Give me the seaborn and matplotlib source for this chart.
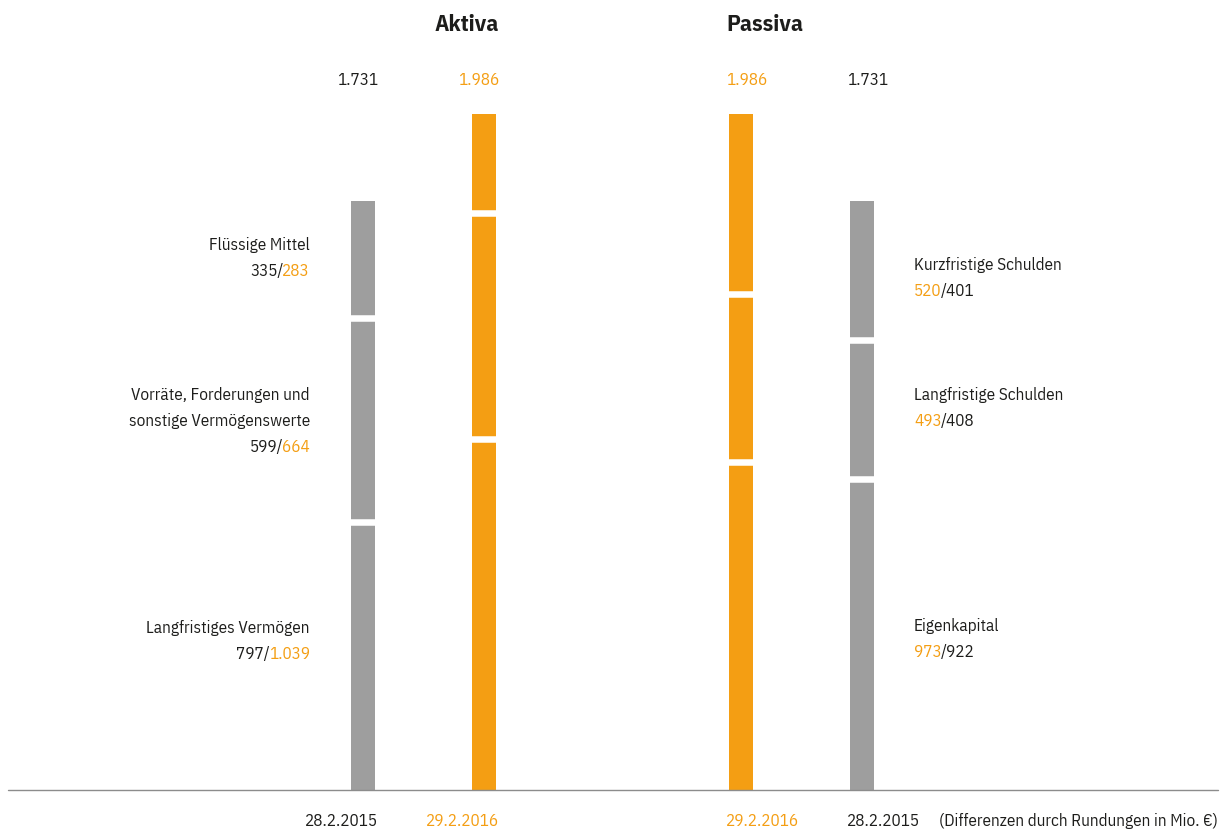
import numpy as np
import pandas as pd
import seaborn as sns
import matplotlib.pyplot as plt
import matplotlib.transforms as mtransforms

# values in Mio. EUR, bottom to top
aktiva_labels = [["Langfristiges Vermögen"],
                 ["Vorräte, Forderungen und", "sonstige Vermögenswerte"],
                 ["Flüssige Mittel"]]
passiva_labels = [["Eigenkapital"], ["Langfristige Schulden"], ["Kurzfristige Schulden"]]

aktiva_2015 = [797, 599, 335]
aktiva_2016 = [1039, 664, 283]
passiva_2016 = [973, 493, 520]
passiva_2015 = [922, 408, 401]

aktiva_2015_txt = ["797", "599", "335"]
aktiva_2016_txt = ["1.039", "664", "283"]
passiva_2016_txt = ["973", "493", "520"]
passiva_2015_txt = ["922", "408", "401"]

totals_txt = ["1.731", "1.986", "1.986", "1.731"]
dates = ["28.2.2015", "29.2.2016", "29.2.2016", "28.2.2015"]
footnote = "(Differenzen durch Rundungen in Mio. €)"

GRAY = "#9e9e9e"
ORANGE = "#f49e13"
DARK = "#1d1d1b"

sns.set_style("white")
plt.rcParams['font.family'] = ['IBM Plex Sans Condensed', 'DejaVu Sans']

fig = plt.figure(figsize=(12.27, 8.34), dpi=100)
ax = fig.add_axes([0, 0, 1, 1])

# layout: one x unit = 121 px, bar 0 centred at px 363, baseline at px 790
UX = 121.0
UY = 676.0 / 1986.0
def px_x(p):
    return (p - 363) / UX
def px_y(p):
    return (790 - p) / UY

bar_x = [0, 1, px_x(741), px_x(862)]
series = [aktiva_2015, aktiva_2016, passiva_2016, passiva_2015]
colors = [GRAY, ORANGE, ORANGE, GRAY]
txt_colors = [DARK, ORANGE, ORANGE, DARK]
bar_w = 24 / UX

for pos, vals, col in zip(bar_x, series, colors):
    bottoms = np.concatenate([[0], np.cumsum(vals)[:-1]])
    for v, b in zip(vals, bottoms):
        sns.barplot(x=[pos], y=[v], bottom=b, native_scale=True, width=bar_w,
                    color=col, saturation=1, errorbar=None, orient="x",
                    linewidth=0, ax=ax)
    # white gaps between segments
    for b in bottoms[1:]:
        ax.hlines(b - 3 / UY, pos - bar_w * 0.6, pos + bar_w * 0.6,
                  color="white", linewidth=4.7, capstyle="butt", zorder=5)

ax.set_xlim(px_x(0), px_x(1227))
ax.set_ylim(px_y(834), px_y(0))
ax.axis("off")

ax.plot([px_x(8), px_x(1218)], [0, 0], color="#8c8c8c", linewidth=1.0, zorder=6)

fs = 12.3
off = 15 / UX
for i, pos in enumerate(bar_x):
    ha = "right" if i < 2 else "left"
    xx = pos + off if i < 2 else pos - off
    ax.text(xx, px_y(85), totals_txt[i], ha=ha, va="baseline", fontsize=fs, color=txt_colors[i])
    ax.text(xx, px_y(826), dates[i], ha=ha, va="baseline", fontsize=fs, color=txt_colors[i])

ax.text(1 + off, px_y(31), "Aktiva", ha="right", va="baseline", fontsize=16.8,
        fontweight="bold", color=DARK)
ax.text(bar_x[2] - off, px_y(31), "Passiva", ha="left", va="baseline", fontsize=16.8,
        fontweight="bold", color=DARK)

ax.text(px_x(1218), px_y(826), footnote, ha="right", va="baseline", fontsize=fs, color=DARK)

renderer = fig.canvas.get_renderer()

# text baselines (px from top) for each segment label block
left_base = [[633, 659], [400, 426, 452], [250, 276]]
right_base = [[631, 657], [400, 426], [270, 296]]

# left side: right aligned, "2015 / 2016"
lx = px_x(310)
for k in range(3):
    lines = aktiva_labels[k]
    base = left_base[k]
    for line, b in zip(lines, base):
        ax.text(lx, px_y(b), line, ha="right", va="baseline", fontsize=fs, color=DARK)
    yb = px_y(base[-1])
    t2 = ax.text(lx, yb, aktiva_2016_txt[k], ha="right", va="baseline", fontsize=fs, color=ORANGE)
    w = t2.get_window_extent(renderer).width
    tr = mtransforms.offset_copy(ax.transData, fig=fig, x=-w + 1, y=0, units="dots")
    ax.text(lx, yb, aktiva_2015_txt[k] + "/", ha="right", va="baseline", fontsize=fs,
            color=DARK, transform=tr)

# right side: left aligned, "2016 / 2015"
rx = px_x(914)
for k in range(3):
    lines = passiva_labels[k]
    base = right_base[k]
    for line, b in zip(lines, base):
        ax.text(rx, px_y(b), line, ha="left", va="baseline", fontsize=fs, color=DARK)
    yb = px_y(base[-1])
    t1 = ax.text(rx, yb, passiva_2016_txt[k], ha="left", va="baseline", fontsize=fs, color=ORANGE)
    w = t1.get_window_extent(renderer).width
    tr = mtransforms.offset_copy(ax.transData, fig=fig, x=w - 1, y=0, units="dots")
    ax.text(rx, yb, "/" + passiva_2015_txt[k], ha="left", va="baseline", fontsize=fs,
            color=DARK, transform=tr)

fig.savefig("out.png", dpi=100)
